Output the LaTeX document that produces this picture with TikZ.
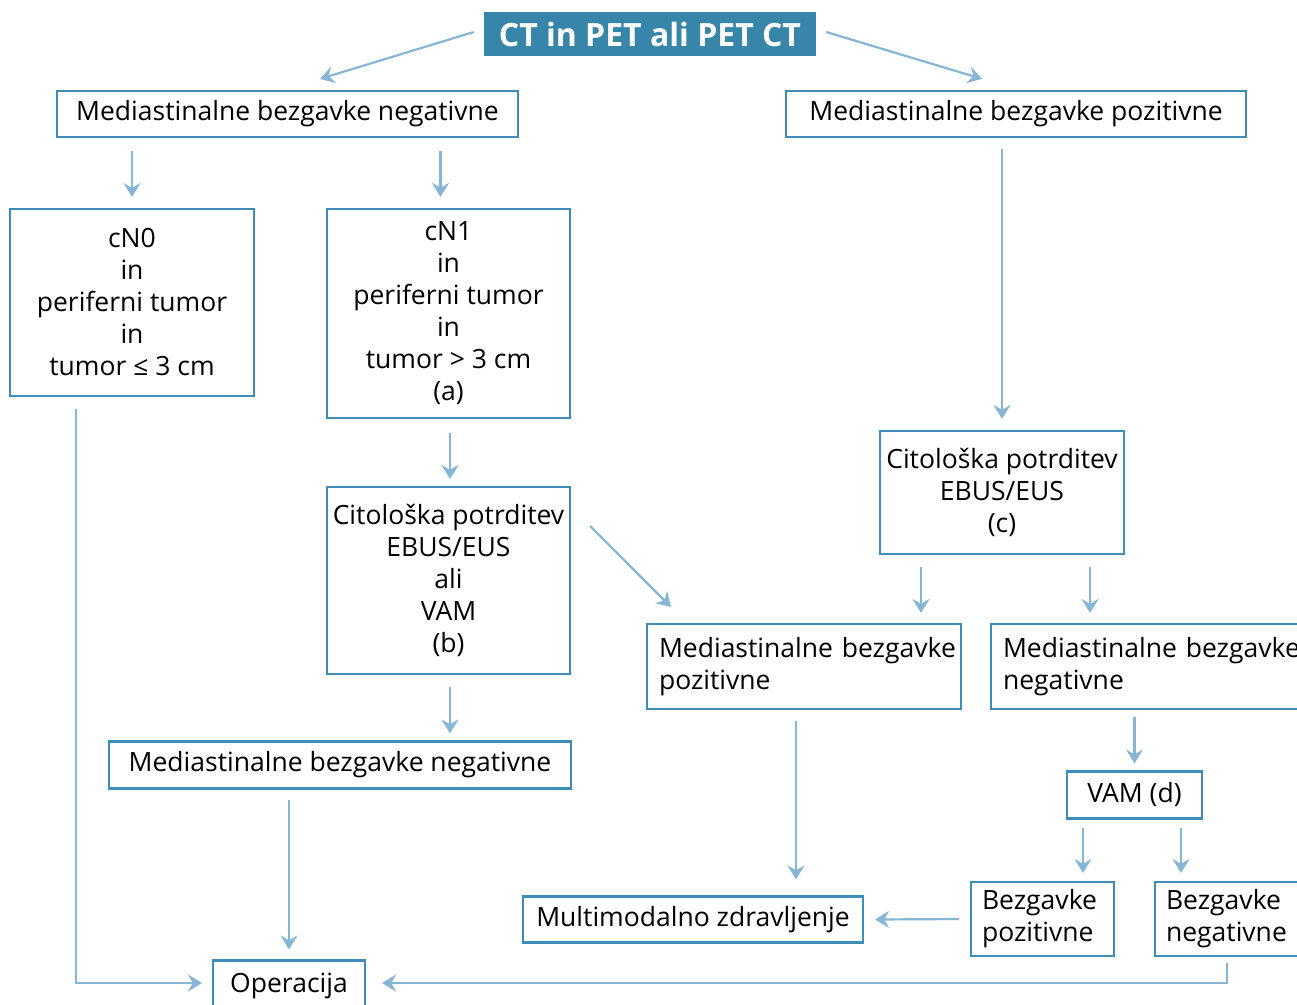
\documentclass[tikz,border=0pt]{standalone}
\usepackage{fontspec}
\setmainfont{Open Sans}
\usetikzlibrary{arrows.meta,calc}
\definecolor{boxc}{HTML}{3D8DB8}
\definecolor{arrc}{HTML}{86B5D6}
\definecolor{titc}{HTML}{3786AA}
\begin{document}
\begin{tikzpicture}[x=1pt,y=-1pt,
  box/.style={draw=boxc,line width=2.2pt,inner sep=0pt,align=center,
    font=\fontsize{26.5}{32}\selectfont},
  lbox/.style={box,align=left,inner xsep=12pt},
  arr/.style={draw=arrc,line width=2.2pt,
    -{Stealth[length=14pt,width=17pt,inset=5pt]}},
  title/.style={fill=titc,text=white,inner sep=0pt,
    font=\fontsize{32}{36}\selectfont\bfseries}]
\path[use as bounding box] (0,0) rectangle (1297,1004);

\node[title,minimum width=332pt,minimum height=44pt] (T) at (650,34) {CT in PET ali PET CT};
\node[box,minimum width=461pt,minimum height=46pt] (A) at (287.5,114) {Mediastinalne bezgavke negativne};
\node[box,minimum width=460pt,minimum height=46pt] (B) at (1016,114) {Mediastinalne bezgavke pozitivne};
\node[box,minimum width=244pt,minimum height=187pt] (C) at (132,302.5) {cN0\\in\\periferni tumor\\in\\tumor ≤ 3 cm};
\node[box,minimum width=243pt,minimum height=209pt] (D) at (448.5,313.5) {cN1\\in\\periferni tumor\\in\\tumor > 3 cm\\(a)};
\node[box,minimum width=243pt,minimum height=187pt] (E) at (448.5,580.5) {Citološka potrditev\\EBUS/EUS\\ali\\VAM\\(b)};
\node[box,minimum width=244pt,minimum height=123pt] (F) at (1002,492.5) {Citološka potrditev\\EBUS/EUS\\(c)};
\node[lbox,minimum width=314pt,minimum height=85pt,text width=290pt] (G) at (804,666.5) {\mbox{Mediastinalne bezgavke}\\pozitivne};
\node[lbox,minimum width=314pt,minimum height=85pt,text width=290pt] (H) at (1148,666.5) {\mbox{Mediastinalne bezgavke}\\negativne};
\node[box,minimum width=462pt,minimum height=47pt] (I) at (340,765) {Mediastinalne bezgavke negativne};
\node[box,minimum width=135pt,minimum height=47pt] (J) at (1134.5,795) {VAM (d)};
\node[box,minimum width=340pt,minimum height=46pt] (K) at (693,919.5) {Multimodalno zdravljenje};
\node[lbox,minimum width=143pt,minimum height=74pt,text width=121pt,inner xsep=11pt] (L) at (1042.5,919) {Bezgavke\\pozitivne};
\node[lbox,minimum width=143pt,minimum height=74pt,text width=121pt,inner xsep=11pt] (M) at (1226.5,919) {Bezgavke\\negativne};
\node[box,minimum width=152pt,minimum height=50pt] (N) at (289,985.5) {Operacija};

\draw[arr] ($(T.west)+(-10,-2)$) -- ($(A.north)+(32.5,-11)$);
\draw[arr] ($(T.east)+(10,-2)$) -- ($(B.north)+(-34,-11)$);
\draw[arr] ($(A.south -| C.north)+(0,13)$) -- ($(C.north)+(0,-11)$);
\draw[arr] ($(A.south -| D.north)+(-8,13)$) -- ($(D.north)+(-8,-11)$);
\draw[arr] ($(B.south -| F.north)+(0,11)$) -- ($(F.north)+(0,-11)$);
\draw[arr] ($(D.south)+(1.5,14)$) -- ($(E.north)+(1.5,-7)$);
\draw[arr] ($(E.east)+(19,-54.5)$) -- ($(G.north west)+(25,-16)$);
\draw[arr] ($(E.south)+(1.5,12)$) -- ($(E.south |- I.north)+(1.5,-7)$);
\draw[arr] ($(F.south)+(-81,12)$) -- ($(G.north -| F.south)+(-81,-10)$);
\draw[arr] ($(F.south)+(88,12)$) -- ($(H.north -| F.south)+(88,-10)$);
\draw[arr] ($(H.south -| J.north)+(0,7)$) -- ($(J.north)+(0,-7)$);
\draw[arr] ($(J.south)+(-51.5,8)$) -- ($(J.south |- L.north)+(-51.5,-8)$);
\draw[arr] ($(J.south)+(46.5,8)$) -- ($(J.south |- M.north)+(46.5,-8)$);
\draw[arr] ($(L.west)+(-11,0)$) -- ($(K.east)+(11,0)$);
\draw[arr] ($(G.south)+(-8,11)$) -- ($(G.south |- K.north)+(-8,-16)$);
\draw[arr] ($(I.south -| N.north)+(0,10)$) -- ($(N.north)+(0,-10)$);
\draw[arr] ($(C.south)+(-56,12)$) |- ($(N.west)+(-10,-2.5)$);
\draw[arr] ($(M.south)+(0.5,6)$) |- ($(N.east)+(16,-2.5)$);
\end{tikzpicture}
\end{document}
